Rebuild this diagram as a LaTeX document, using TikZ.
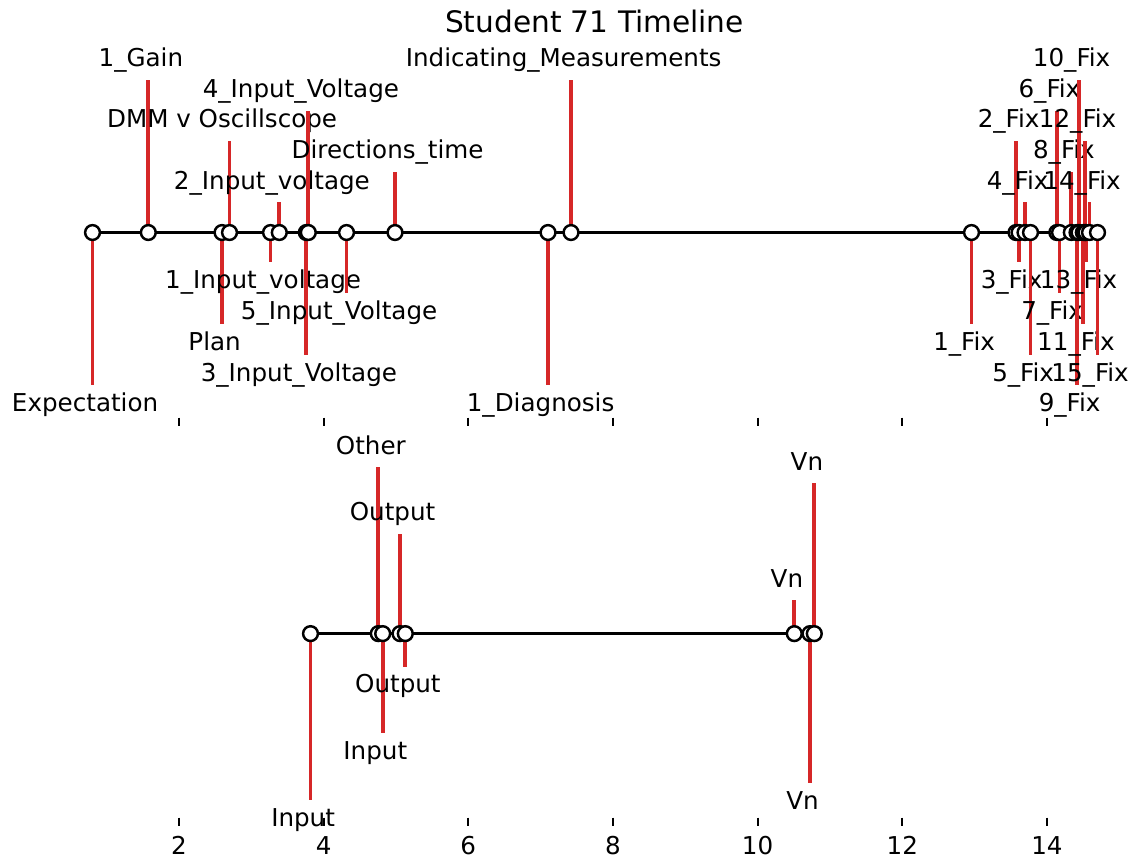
\documentclass[tikz,border=0pt]{standalone}
\usepackage{fontspec}
\setmainfont{DejaVu Sans}
\definecolor{tabred}{RGB}{214,39,40}
\tikzset{
  stem/.style={draw=tabred, line width=1.85pt},
  axisline/.style={draw=black, line width=1.85pt},
  dot/.style={circle, draw=black, fill=white, line width=1.23pt, minimum size=7.4pt, inner sep=0pt},
  lbl/.style={anchor=base, inner sep=0pt, font=\fontsize{12.3}{14}\selectfont},
  ticklbl/.style={anchor=base, inner sep=0pt, font=\fontsize{12.3}{14}\selectfont},
  tickmark/.style={draw=black, line width=1pt},
  ttl/.style={anchor=base, inner sep=0pt, font=\fontsize{14.8}{17}\selectfont}
}
% events: name / x / stem end / label baseline offset / text
\def\topevents{t1/92.5/385/26/Expectation,
t2/148.3/80/-13.2/1\_Gain,
t3/222/324/26/Plan,
t4/229.5/140.7/-13.2/DMM v Oscillscope,
t5/270.5/262.3/26/1\_Input\_voltage,
t6/279.3/202.3/-13.2/2\_Input\_voltage,
t7/306.3/355/26/3\_Input\_Voltage,
t8/308.3/110.7/-13.2/4\_Input\_Voltage,
t9/346.5/293.3/26/5\_Input\_Voltage,
t10/395/172/-13.2/Directions\_time,
t11/548/385/26/1\_Diagnosis,
t12/571/80/-13.2/Indicating\_Measurements,
t13/971.5/324/26/1\_Fix,
t14/1016/140.7/-13.2/2\_Fix,
t15/1019/262.3/26/3\_Fix,
t16/1025/202.3/-13.2/4\_Fix,
t17/1030.5/355/26/5\_Fix,
t18/1056.8/110.7/-13.2/6\_Fix,
t19/1059.5/293.3/26/7\_Fix,
t20/1071.3/172/-13.2/8\_Fix,
t21/1077/385/26/9\_Fix,
t22/1079/80/-13.2/10\_Fix,
t23/1083.3/324/26/11\_Fix,
t24/1085/140.7/-13.2/12\_Fix,
t25/1086/262.3/26/13\_Fix,
t26/1089.5/202.3/-13.2/14\_Fix,
t27/1097.5/355/26/15\_Fix}
\def\botevents{b1/310.5/800/26/Input,
b2/378.3/467.3/-13.2/Other,
b3/382.7/733.4/26/Input,
b4/400/533.8/-13.2/Output,
b5/405.3/666.9/26/Output,
b6/794.3/600.3/-13.2/Vn,
b7/810/783.3/26/Vn,
b8/814.3/483.3/-13.2/Vn}
\begin{document}
\begin{tikzpicture}[x=0.5pt, y=-0.5pt]
  \useasboundingbox (0,0) rectangle (1134,858);
  \node[ttl] (title) at (594.5,32.8) {Student 71 Timeline};

  % top timeline: stems and labels
  \foreach \n/\x/\e/\o/\t in \topevents {
    \coordinate (\n) at (\x,232.5);
    \coordinate (\n e) at (\x,\e);
    \draw[stem] (\n) -- (\n e);
    \node[lbl] (\n l) at ({\x-7.4},{\e+\o}) {\t};
  }
  % bottom timeline: stems and labels
  \foreach \n/\x/\e/\o/\t in \botevents {
    \coordinate (\n) at (\x,633.6);
    \coordinate (\n e) at (\x,\e);
    \draw[stem] (\n) -- (\n e);
    \node[lbl] (\n l) at ({\x-7.4},{\e+\o}) {\t};
  }

  % base lines
  \draw[axisline] (t1) -- (t27);
  \draw[axisline] (b1) -- (b8);

  % markers
  \foreach \n/\x/\e/\o/\t in \topevents {
    \node[dot] (\n d) at (\n) {};
  }
  \foreach \n/\x/\e/\o/\t in \botevents {
    \node[dot] (\n d) at (\n) {};
  }

  % shared x axis ticks
  \foreach \v in {2,4,...,14} {
    \draw[tickmark] ({34.3+\v*72.33},417.5) -- ++(0,8.6);
    \draw[tickmark] ({34.3+\v*72.33},817.5) -- ++(0,8.6);
    \node[ticklbl] (tick\v) at ({34.3+\v*72.33},854) {\v};
  }
\end{tikzpicture}
\end{document}
